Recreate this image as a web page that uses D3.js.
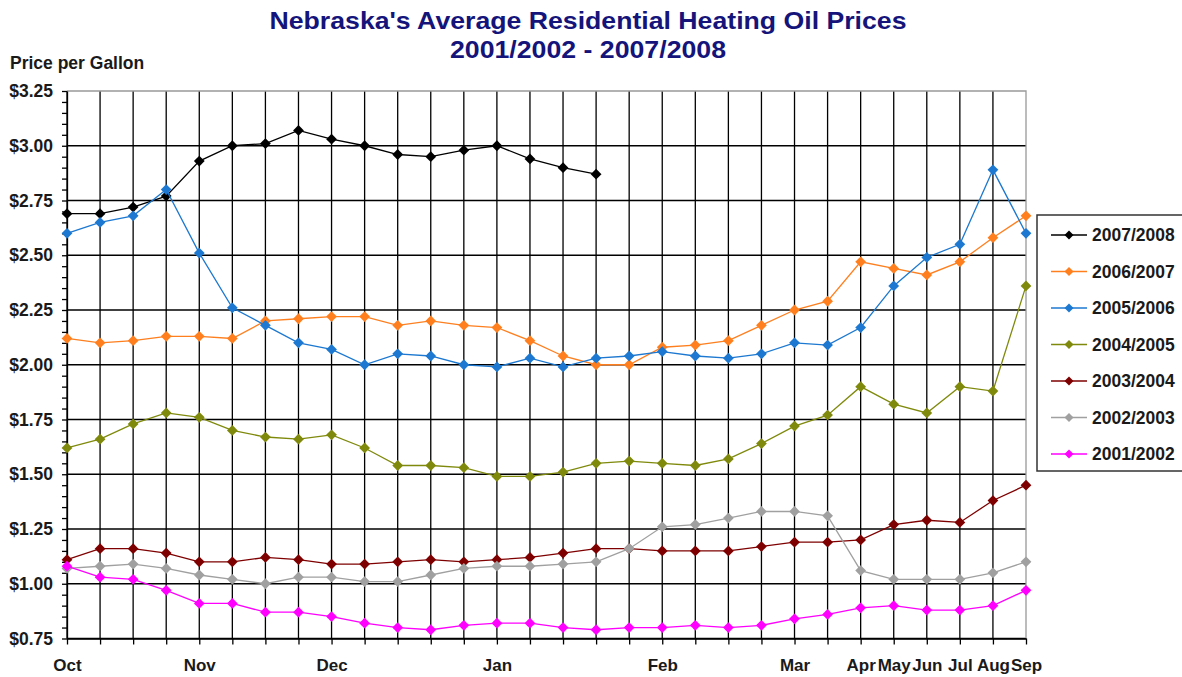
<!DOCTYPE html>
<html>
<head>
<meta charset="utf-8">
<script src="https://cdn.jsdelivr.net/npm/d3@7"></script>
<style>
  body { margin: 0; background: #fff; }
  text { font-family: Arial, 'Liberation Sans', sans-serif; font-weight: bold; }
</style>
</head>
<body>
<svg id="chart" width="1182" height="677"></svg>
<script>
// weekly points Oct - mid Mar, then monthly
const monthLabels = ['Oct', '', '', '', 'Nov', '', '', '', 'Dec', '', '', '', '', 'Jan', '', '', '', '',
  'Feb', '', '', '', 'Mar', '', 'Apr', 'May', 'Jun', 'Jul', 'Aug', 'Sep']

const seasons = ['2007/2008', '2006/2007', '2005/2006', '2004/2005', '2003/2004', '2002/2003', '2001/2002']
const seasonColors = ['#000000', '#ff7f1f', '#1c78d0', '#7f8a0c', '#7f0000', '#a0a0a0', '#ff00ff']

const prices2007 = [2.69, 2.69, 2.72, 2.77, 2.93, 3.00, 3.01, 3.07, 3.03, 3.00, 2.96, 2.95, 2.98, 3.00, 2.94, 2.90, 2.87]
const prices2006 = [2.12, 2.10, 2.11, 2.13, 2.13, 2.12, 2.20, 2.21, 2.22, 2.22, 2.18, 2.20, 2.18, 2.17, 2.11, 2.04, 2.00, 2.00,
  2.08, 2.09, 2.11, 2.18, 2.25, 2.29, 2.47, 2.44, 2.41, 2.47, 2.58, 2.68]
const prices2005 = [2.60, 2.65, 2.68, 2.80, 2.51, 2.26, 2.18, 2.10, 2.07, 2.00, 2.05, 2.04, 2.00, 1.99, 2.03, 1.99, 2.03, 2.04,
  2.06, 2.04, 2.03, 2.05, 2.10, 2.09, 2.17, 2.36, 2.49, 2.55, 2.89, 2.60]
const prices2004 = [1.62, 1.66, 1.73, 1.78, 1.76, 1.70, 1.67, 1.66, 1.68, 1.62, 1.54, 1.54, 1.53, 1.49, 1.49, 1.51, 1.55, 1.56,
  1.55, 1.54, 1.57, 1.64, 1.72, 1.77, 1.90, 1.82, 1.78, 1.90, 1.88, 2.36]
const prices2003 = [1.11, 1.16, 1.16, 1.14, 1.10, 1.10, 1.12, 1.11, 1.09, 1.09, 1.10, 1.11, 1.10, 1.11, 1.12, 1.14, 1.16, 1.16,
  1.15, 1.15, 1.15, 1.17, 1.19, 1.19, 1.20, 1.27, 1.29, 1.28, 1.38, 1.45]
const prices2002 = [1.07, 1.08, 1.09, 1.07, 1.04, 1.02, 1.00, 1.03, 1.03, 1.01, 1.01, 1.04, 1.07, 1.08, 1.08, 1.09, 1.10, 1.16,
  1.26, 1.27, 1.30, 1.33, 1.33, 1.31, 1.06, 1.02, 1.02, 1.02, 1.05, 1.10]
const prices2001 = [1.08, 1.03, 1.02, 0.97, 0.91, 0.91, 0.87, 0.87, 0.85, 0.82, 0.80, 0.79, 0.81, 0.82, 0.82, 0.80, 0.79, 0.80,
  0.80, 0.81, 0.80, 0.81, 0.84, 0.86, 0.89, 0.90, 0.88, 0.88, 0.90, 0.97]

const seriesValues = [prices2007, prices2006, prices2005, prices2004, prices2003, prices2002, prices2001]

const yMin = 0.75
const yMax = 3.25

const plotLeft = 67
const plotRight = 1026
const plotTop = 91
const plotBottom = 638.5

const svg = d3.select('#chart')

const xScale = d3.scalePoint()
  .domain(d3.range(monthLabels.length))
  .range([plotLeft, plotRight])

const yScale = d3.scaleLinear()
  .domain([yMin, yMax])
  .range([plotBottom, plotTop])

const majorTicks = d3.range(0, 11).map(i => yMin + i * 0.25)
const minorTicks = d3.range(0, 51).map(i => yMin + i * 0.05)

// grid
const grid = svg.append('g')

grid.selectAll('.hgrid')
  .data(majorTicks.slice(0, -1))
  .join('line')
  .attr('x1', plotLeft)
  .attr('x2', plotRight)
  .attr('y1', d => yScale(d))
  .attr('y2', d => yScale(d))
  .attr('stroke', '#000')
  .attr('stroke-width', 1.3)

grid.selectAll('.vgrid')
  .data(d3.range(monthLabels.length - 1))
  .join('line')
  .attr('x1', d => xScale(d))
  .attr('x2', d => xScale(d))
  .attr('y1', plotTop)
  .attr('y2', plotBottom)
  .attr('stroke', '#000')
  .attr('stroke-width', 1.3)

// top and right border are grey
grid.append('path')
  .attr('d', `M${plotLeft},${yScale(yMax)}H${xScale(monthLabels.length - 1)}V${plotBottom}`)
  .attr('fill', 'none')
  .attr('stroke', '#999')
  .attr('stroke-width', 1.3)

// axes
const yAxis = svg.append('g')
  .attr('transform', `translate(${plotLeft}, 0)`)
  .call(d3.axisLeft(yScale)
    .tickValues(minorTicks)
    .tickSize(5)
    .tickSizeOuter(0)
    .tickPadding(9)
    .tickFormat(d => Math.round(d * 100) % 25 === 0 ? d3.format('$.2f')(d) : ''))

const xAxis = svg.append('g')
  .attr('transform', `translate(0, ${plotBottom})`)
  .call(d3.axisBottom(xScale)
    .tickSize(6)
    .tickSizeOuter(0)
    .tickPadding(14)
    .tickFormat(i => monthLabels[i]))

svg.selectAll('.domain, .tick line')
  .attr('stroke', '#000')
  .attr('stroke-width', 1.3)

yAxis.selectAll('text')
  .attr('font-size', 17.5)
  .attr('fill', '#1a1a1a')

xAxis.selectAll('text')
  .attr('font-size', 17)
  .attr('fill', '#1a1a1a')

// series
const line = d3.line()
  .x((d, i) => xScale(i))
  .y(d => yScale(d))

const diamond = d3.symbol(d3.symbolSquare, 58)

seriesValues.forEach((values, s) => {
  const g = svg.append('g')

  g.append('path')
    .datum(values)
    .attr('d', line)
    .attr('fill', 'none')
    .attr('stroke', seasonColors[s])
    .attr('stroke-width', 1.3)

  g.selectAll('path.marker')
    .data(values)
    .join('path')
    .attr('class', 'marker')
    .attr('d', diamond)
    .attr('transform', (d, i) => `translate(${xScale(i)}, ${yScale(d)}) rotate(45)`)
    .attr('fill', seasonColors[s])
})

// title
svg.append('text')
  .attr('x', 588)
  .attr('y', 29)
  .attr('text-anchor', 'middle')
  .attr('font-size', 24)
  .attr('textLength', 637)
  .attr('lengthAdjust', 'spacingAndGlyphs')
  .attr('fill', '#14147a')
  .text("Nebraska's Average Residential Heating Oil Prices")

svg.append('text')
  .attr('x', 588)
  .attr('y', 58)
  .attr('text-anchor', 'middle')
  .attr('font-size', 24)
  .attr('textLength', 276)
  .attr('lengthAdjust', 'spacingAndGlyphs')
  .attr('fill', '#14147a')
  .text('2001/2002 - 2007/2008')

svg.append('text')
  .attr('x', 10)
  .attr('y', 69)
  .attr('font-size', 17.5)
  .attr('fill', '#1a1a1a')
  .text('Price per Gallon')

// legend
const legend = svg.append('g')
  .attr('transform', 'translate(1037, 215)')

legend.append('rect')
  .attr('width', 170)
  .attr('height', 256)
  .attr('fill', '#fff')
  .attr('stroke', '#333')
  .attr('stroke-width', 1.5)

const items = legend.selectAll('.item')
  .data(seasons)
  .join('g')
  .attr('transform', (d, i) => `translate(0, ${20 + i * 36.5})`)

items.append('line')
  .attr('x1', 14)
  .attr('x2', 50)
  .attr('stroke', (d, i) => seasonColors[i])
  .attr('stroke-width', 1.3)

items.append('path')
  .attr('d', d3.symbol(d3.symbolSquare, 40))
  .attr('transform', 'translate(32, 0) rotate(45)')
  .attr('fill', (d, i) => seasonColors[i])

items.append('text')
  .attr('x', 55)
  .attr('dy', '0.36em')
  .attr('font-size', 17.5)
  .attr('fill', '#1a1a1a')
  .text(d => d)
</script>
</body>
</html>
